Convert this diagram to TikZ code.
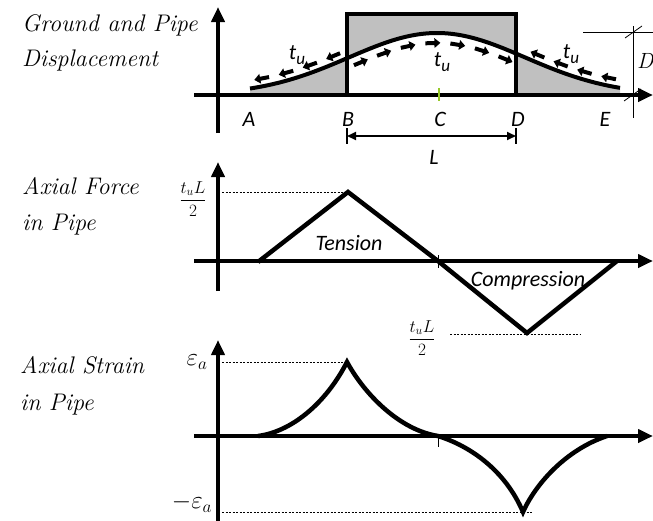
\documentclass[tikz,border=0pt]{standalone}
\usepackage{fontspec}
\newfontfamily\carl{Carlito}
\usetikzlibrary{arrows.meta,decorations.markings}
\definecolor{boxgray}{RGB}{192,192,192}
\definecolor{tickgreen}{RGB}{150,200,40}
\begin{document}
\begin{tikzpicture}[x=1pt,y=-1pt,
  axis/.style={line width=4pt,-{Triangle[length=15pt,width=13pt]}},
  bold/.style={line width=4.5pt,line join=miter},
  thin/.style={line width=0.8pt},
  dots/.style={line width=0.8pt,dash pattern=on 2pt off 1.5pt},
  sans/.style={font=\carl\itshape\fontsize{22}{22}\selectfont, inner sep=0pt},
  ttl/.style={font=\itshape\fontsize{24}{24}\selectfont, anchor=base west, inner sep=0pt},
  fracl/.style={font=\fontsize{17}{17}\selectfont, inner sep=0pt},
  epsl/.style={font=\fontsize{26}{26}\selectfont, inner sep=0pt},
  tuarrows/.style={decoration={markings, mark=between positions 0.06 and 1 step 25pt with {\fill (-8pt,-2pt) -- (1pt,-2pt) -- (1pt,-5pt) -- (7pt,0pt) -- (1pt,5pt) -- (1pt,2pt) -- (-8pt,2pt) -- cycle;}}, postaction={decorate}}
]
\useasboundingbox (0,0) rectangle (653,520);

% ---------------- titles ----------------
\node[ttl] (t1a) at (22,31) {Ground and Pipe};
\node[ttl] (t1b) at (22,66) {Displacement};
\node[ttl] (t2a) at (22,194) {Axial Force};
\node[ttl] (t2b) at (22,230) {in Pipe};
\node[ttl] (t3a) at (20,373) {Axial Strain};
\node[ttl] (t3b) at (20,410) {in Pipe};

% ---------------- top panel ----------------
\fill[boxgray, even odd rule] (347,14) rectangle (516,95)
  (250,95) -- plot[domain=250:620,samples=120] (\x,{95-62*exp(-0.5*((\x-437)/88)^2)}) -- (620,95) -- cycle;
\draw[bold] (347,95) -- (347,14) -- (516,14) -- (516,95);
\draw[line width=4pt] plot[domain=250:620,samples=120] (\x,{95-62*exp(-0.5*((\x-437)/88)^2)});

% t_u distributed arrows
\path[tuarrows] plot[domain=338:246,samples=40] (\x,{87-62*exp(-0.5*((\x-437)/88)^2)});
\path[tuarrows] plot[domain=352:514,samples=60] (\x,{105-62*exp(-0.5*((\x-437)/88)^2)});
\path[tuarrows] plot[domain=614:520,samples=40] (\x,{87-62*exp(-0.5*((\x-437)/88)^2)});

\node[sans] (tu1) at (297,55) {t\raisebox{-5pt}{\fontsize{17}{17}\selectfont u}};
\node[sans] (tu2) at (442,62) {t\raisebox{-5pt}{\fontsize{17}{17}\selectfont u}};
\node[sans] (tu3) at (571,54) {t\raisebox{-5pt}{\fontsize{17}{17}\selectfont u}};

% axes
\coordinate (y1b) at (218,133); \coordinate (y1t) at (218,7);
\coordinate (x1l) at (194,95);  \coordinate (x1r) at (653,95);
\draw[axis] (y1b) -- (y1t);
\draw[axis] (x1l) -- (x1r);
\draw[line width=1.5pt, tickgreen] (439,88) -- (439,101);

% D dimension
\coordinate (dv1) at (633,26); \coordinate (dv2) at (633,118);
\coordinate (dh1) at (583,32); \coordinate (dh2) at (653,32);
\draw[thin] (dv1) -- (dv2);
\draw[thin] (dh1) -- (dh2);
\draw[thin] (625,38) -- (642,26);
\draw[thin] (624,101) -- (641,89);
\node[ttl, font=\itshape\fontsize{22}{22}\selectfont] (Dlab) at (637,68) {D};

% point labels
\node[sans] (A) at (249,119) {A};
\node[sans] (B) at (348,119) {B};
\node[sans] (C) at (440,119) {C};
\node[sans] (D) at (518,119) {D};
\node[sans] (E) at (605,119) {E};

% L dimension
\coordinate (LB) at (347,136); \coordinate (LD) at (516,136);
\draw[line width=1.8pt,{Triangle[length=9pt,width=8pt]}-{Triangle[length=9pt,width=8pt]}] (LB) -- (LD);
\draw[line width=1.5pt] (347,128) -- (347,144);
\draw[line width=1.5pt] (516,128) -- (516,144);
\node[sans] (L) at (434,157) {L};

% ---------------- middle panel ----------------
\coordinate (y2b) at (218,291); \coordinate (y2t) at (218,162);
\coordinate (x2l) at (194,261); \coordinate (x2r) at (653,261);
\draw[dots] (222,192) -- (348,192);
\draw[dots] (450,334) -- (580,334);
\draw[axis] (y2b) -- (y2t);
\draw[axis] (x2l) -- (x2r);
\draw[thin] (438,255) -- (438,268);
\coordinate (fA) at (258,262); \coordinate (fB) at (348,192);
\coordinate (fC) at (438,261); \coordinate (fD) at (527,333);
\coordinate (fE) at (617,261);
\draw[bold] (fA) -- (fB) -- (fC) -- (fD) -- (fE);
\node[sans] (ten) at (349,243) {Tension};
\node[sans] (comp) at (528,281) {Compression};
\node[fracl] (fr1) at (193,199) {$\displaystyle\frac{t_u L}{2}$};
\node[fracl] (fr2) at (422,338) {$\displaystyle\frac{t_u L}{2}$};

% ---------------- bottom panel ----------------
\coordinate (y3b) at (218,522); \coordinate (y3t) at (218,340);
\coordinate (x3l) at (194,436); \coordinate (x3r) at (653,436);
\draw[dots] (222,362) -- (347,362);
\draw[dots] (222,512) -- (533,512);
\draw[axis] (y3b) -- (y3t);
\draw[axis] (x3l) -- (x3r);
\draw[thin] (438,437) -- (438,447);
\coordinate (sA) at (258,436); \coordinate (sB) at (347,362);
\coordinate (sC) at (438,436); \coordinate (sD) at (523,512);
\coordinate (sE) at (607,436);
\draw[bold, line join=miter]
  (sA) .. controls (290,432) and (325,405) .. (sB)
       .. controls (365,395) and (400,430) .. (sC)
       .. controls (470,446) and (505,470) .. (sD)
       .. controls (535,485) and (565,450) .. (sE);
\node[epsl] (ep1) at (197,362) {$\varepsilon_a$};
\node[epsl] (ep2) at (192,503) {$-\varepsilon_a$};
\end{tikzpicture}
\end{document}
